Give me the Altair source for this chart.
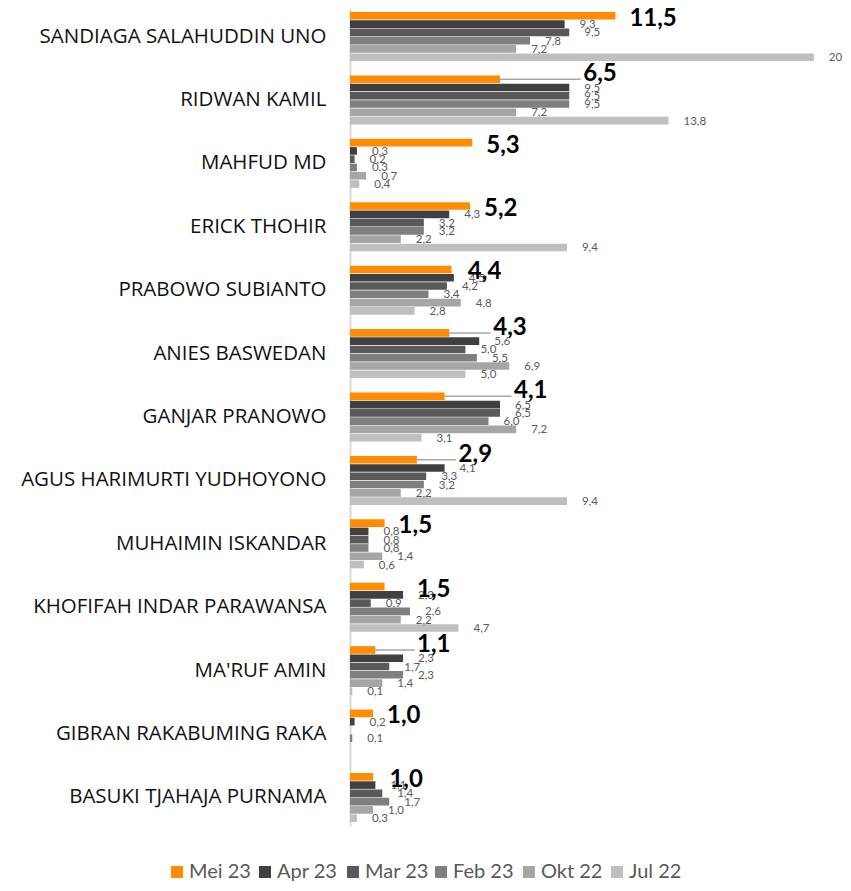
import altair as alt
import pandas as pd

candidates = [
    "SANDIAGA SALAHUDDIN UNO", "RIDWAN KAMIL", "MAHFUD MD", "ERICK THOHIR",
    "PRABOWO SUBIANTO", "ANIES BASWEDAN", "GANJAR PRANOWO",
    "AGUS HARIMURTI YUDHOYONO", "MUHAIMIN ISKANDAR", "KHOFIFAH INDAR PARAWANSA",
    "MA'RUF AMIN", "GIBRAN RAKABUMING RAKA", "BASUKI TJAHAJA PURNAMA",
]
series = ["Mei 23", "Apr 23", "Mar 23", "Feb 23", "Okt 22", "Jul 22"]
colors = ["#FF8C00", "#404040", "#595959", "#7F7F7F", "#A6A6A6", "#BFBFBF"]

mei23 = [11.5, 6.5, 5.3, 5.2, 4.4, 4.3, 4.1, 2.9, 1.5, 1.5, 1.1, 1.0, 1.0]
apr23 = [9.3, 9.5, 0.3, 4.3, 4.5, 5.6, 6.5, 4.1, 0.8, 2.3, 2.3, 0.2, 1.1]
mar23 = [9.5, 9.5, 0.2, 3.2, 4.2, 5.0, 6.5, 3.3, 0.8, 0.9, 1.7, None, 1.4]
feb23 = [7.8, 9.5, 0.3, 3.2, 3.4, 5.5, 6.0, 3.2, 0.8, 2.6, 2.3, 0.1, 1.7]
okt22 = [7.2, 7.2, 0.7, 2.2, 4.8, 6.9, 7.2, 2.2, 1.4, 2.2, 1.4, None, 1.0]
jul22 = [20.1, 13.8, 0.4, 9.4, 2.8, 5.0, 3.1, 9.4, 0.6, 4.7, 0.1, None, 0.3]


def fmt(v):
    return f"{v:.1f}".replace(".", ",")


rows = []
for s, vals in zip(series, [mei23, apr23, mar23, feb23, okt22, jul22]):
    for c, v in zip(candidates, vals):
        if v is not None:
            rows.append({"kandidat": c, "periode": s, "nilai": v, "label": fmt(v)})
df = pd.DataFrame(rows)

main = pd.DataFrame({"kandidat": candidates, "mei": mei23, "apr": apr23})
main["anchor"] = main[["mei", "apr"]].max(axis=1)
main["lead_end"] = main["anchor"] + 0.5
main["lead"] = (main["anchor"] - main["mei"]) > 1
main["label"] = [fmt(v) for v in mei23]
main["periode"] = "Mei 23"

CAT_FONT = "Open Sans"
FONT = "Lato"

y_enc = alt.Y(
    "kandidat:N",
    sort=candidates,
    scale=alt.Scale(domain=candidates, paddingInner=0.227, paddingOuter=0.063),
    axis=alt.Axis(
        title=None, ticks=False, labelFontSize=20.5, labelColor="#111111",
        labelPadding=24, domainColor="#D9D9D9", domainWidth=2,
        labelFont=CAT_FONT, labelLimit=400,
    ),
)
yoff = alt.YOffset("periode:N", sort=series,
                   scale=alt.Scale(domain=series, paddingInner=0.08))
x_scale = alt.Scale(domain=[0, 20.8], nice=False, zero=True)

bars = alt.Chart(df).mark_bar().encode(
    x=alt.X("nilai:Q", scale=x_scale, axis=None),
    y=y_enc,
    yOffset=yoff,
    color=alt.Color(
        "periode:N", sort=series,
        scale=alt.Scale(domain=series, range=colors),
        legend=alt.Legend(
            orient="none", legendX=-183, legendY=854, direction="horizontal",
            title=None, symbolType="square", symbolSize=144, symbolStrokeWidth=0,
            labelFontSize=20, labelColor="#595959", labelFont=FONT,
            columnPadding=2, labelOffset=2, gridAlign="all",
        ),
    ),
)

small = alt.Chart(df).transform_filter(
    alt.datum.periode != "Mei 23"
).mark_text(align="left", baseline="middle", dx=15, dy=1, fontSize=11.5,
            color="#595959", font=FONT).encode(
    x=alt.X("nilai:Q", scale=x_scale, axis=None),
    y=y_enc, yOffset=yoff, text="label:N",
)

leads = alt.Chart(main).transform_filter(alt.datum.lead).mark_rule(
    color="#A6A6A6", strokeWidth=1.5
).encode(
    x=alt.X("mei:Q", scale=x_scale, axis=None),
    x2="lead_end:Q",
    y=y_enc, yOffset=yoff,
)

big_style = dict(align="left", baseline="middle", dx=14, fontSize=24,
                 fontWeight="bold", color="#000000", font=FONT)

big_near = alt.Chart(main).transform_filter(~alt.datum.lead).mark_text(
    dy=3, **big_style
).encode(
    x=alt.X("anchor:Q", scale=x_scale, axis=None),
    y=y_enc, yOffset=yoff, text="label:N",
)

big_far = alt.Chart(main).transform_filter(alt.datum.lead).mark_text(
    dy=-5, **big_style
).encode(
    x=alt.X("anchor:Q", scale=x_scale, axis=None),
    y=y_enc, yOffset=yoff, text="label:N",
)

chart = alt.layer(bars, leads, small, big_near, big_far).properties(
    width=480, height=818,
    autosize=alt.AutoSizeParams(type="none"),
    padding={"left": 342, "top": 0, "right": 13, "bottom": 56},
    background="white",
).configure_view(stroke=None)

chart.save("out.html", embed_options={"renderer": "svg", "actions": False})
